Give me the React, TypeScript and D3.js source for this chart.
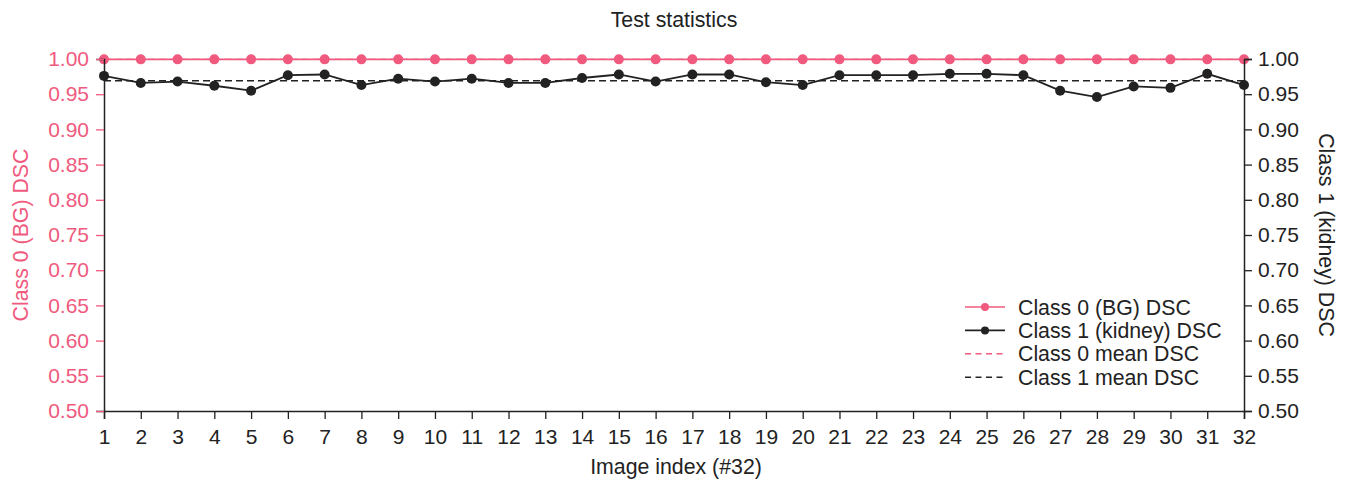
import React, { useEffect, useRef } from "react";
import * as d3 from "d3";

const imageIndex = d3.range(1, 33);
const class0Dsc = [
  0.9995, 0.9995, 0.9995, 0.9995, 0.9995, 0.9995, 0.9995, 0.9995, 0.9995, 0.9995, 0.9995,
  0.9995, 0.9995, 0.9995, 0.9995, 0.9995, 0.9995, 0.9995, 0.9995, 0.9995, 0.9995, 0.9995,
  0.9995, 0.9995, 0.9995, 0.9995, 0.9995, 0.9995, 0.9995, 0.9995, 0.9995, 0.9995,
];
const class1Dsc = [
  0.976, 0.966, 0.968, 0.962, 0.955, 0.977, 0.978, 0.963, 0.972, 0.968, 0.972,
  0.966, 0.966, 0.973, 0.978, 0.968, 0.978, 0.978, 0.967, 0.963, 0.977, 0.977,
  0.977, 0.979, 0.979, 0.977, 0.955, 0.946, 0.961, 0.959, 0.979, 0.963,
];
const class0Mean = 0.9995;
const class1Mean = 0.969;
const yTicks = [0.5, 0.55, 0.6, 0.65, 0.7, 0.75, 0.8, 0.85, 0.9, 0.95, 1.0];

const PINK = "#f05a7e";
const DARK = "#222222";
const FONT = "'Liberation Sans', Arial, sans-serif";
const LABEL_SIZE = "21.3px";
const TICK_SIZE = 21;

function Chart() {
  const ref = useRef<SVGSVGElement>(null);

  useEffect(() => {
    const svg = d3.select(ref.current);
    svg.selectAll("*").remove();
    const W = 1351, H = 480;
    const margin = { top: 59, right: 107, bottom: 69, left: 104 };
    const w = W - margin.left - margin.right,
      h = H - margin.top - margin.bottom;

    svg.attr("width", W).attr("height", H).style("font-family", FONT);
    const g = svg.append("g").attr("transform", `translate(${margin.left},${margin.top})`);

    const x = d3.scaleLinear().domain([1, 32]).range([0, w]);
    const y = d3.scaleLinear().domain([0.5, 1.0]).range([h, 0]);

    // mean lines
    g.append("line")
      .attr("x1", 0).attr("x2", w)
      .attr("y1", y(class0Mean)).attr("y2", y(class0Mean))
      .attr("stroke", PINK).attr("stroke-width", 1.4).attr("stroke-dasharray", "7,4");
    g.append("line")
      .attr("x1", 0).attr("x2", w)
      .attr("y1", y(class1Mean)).attr("y2", y(class1Mean))
      .attr("stroke", DARK).attr("stroke-width", 1.4).attr("stroke-dasharray", "7,4");

    const line = d3.line<number>().x((d, i) => x(imageIndex[i])).y(d => y(d));

    g.append("path").datum(class0Dsc)
      .attr("d", line).attr("fill", "none").attr("stroke", PINK).attr("stroke-width", 1.8);
    g.selectAll(".p0").data(class0Dsc).join("circle")
      .attr("class", "p0")
      .attr("cx", (d, i) => x(imageIndex[i])).attr("cy", d => y(d))
      .attr("r", 5).attr("fill", PINK);

    g.append("path").datum(class1Dsc)
      .attr("d", line).attr("fill", "none").attr("stroke", DARK).attr("stroke-width", 1.8);
    g.selectAll(".p1").data(class1Dsc).join("circle")
      .attr("class", "p1")
      .attr("cx", (d, i) => x(imageIndex[i])).attr("cy", d => y(d))
      .attr("r", 5).attr("fill", DARK);

    // axes
    const xAxis = g.append("g")
      .attr("transform", `translate(0,${h})`)
      .call(d3.axisBottom(x).tickValues(imageIndex).tickFormat(d3.format("d")).tickSize(8).tickPadding(10));
    xAxis.attr("font-family", FONT).attr("font-size", TICK_SIZE);
    xAxis.selectAll("text").attr("fill", DARK);
    xAxis.selectAll("line").attr("stroke", DARK).attr("stroke-width", 1.3);
    xAxis.select(".domain").attr("stroke", DARK).attr("stroke-width", 1.5);

    const yLeft = g.append("g")
      .call(d3.axisLeft(y).tickValues(yTicks).tickFormat(d3.format(".2f")).tickSize(8).tickPadding(7));
    yLeft.attr("font-family", FONT).attr("font-size", TICK_SIZE);
    yLeft.selectAll("text").attr("fill", PINK);
    yLeft.selectAll("line").attr("stroke", PINK).attr("stroke-width", 1.3);
    yLeft.select(".domain").attr("stroke", DARK).attr("stroke-width", 1.5);

    const yRight = g.append("g")
      .attr("transform", `translate(${w},0)`)
      .call(d3.axisRight(y).tickValues(yTicks).tickFormat(d3.format(".2f")).tickSize(8).tickPadding(6));
    yRight.attr("font-family", FONT).attr("font-size", TICK_SIZE);
    yRight.selectAll("text").attr("fill", DARK);
    yRight.selectAll("line").attr("stroke", DARK).attr("stroke-width", 1.3);
    yRight.select(".domain").attr("stroke", DARK).attr("stroke-width", 1.5);

    // titles
    svg.append("text")
      .attr("x", margin.left + w / 2).attr("y", 27)
      .attr("text-anchor", "middle").style("font-size", LABEL_SIZE).attr("fill", DARK)
      .text("Test statistics");

    svg.append("text")
      .attr("x", margin.left + w / 2 + 2).attr("y", 474)
      .attr("text-anchor", "middle").style("font-size", LABEL_SIZE).attr("fill", DARK)
      .text("Image index (#32)");

    svg.append("text")
      .attr("transform", `translate(28,${margin.top + h / 2}) rotate(-90)`)
      .attr("text-anchor", "middle").style("font-size", LABEL_SIZE).attr("fill", PINK)
      .text("Class 0 (BG) DSC");

    svg.append("text")
      .attr("transform", `translate(1319,${margin.top + h / 2}) rotate(90)`)
      .attr("text-anchor", "middle").style("font-size", LABEL_SIZE).attr("fill", DARK)
      .text("Class 1 (kidney) DSC");

    // legend
    const legendItems = [
      { label: "Class 0 (BG) DSC", color: PINK, dash: null, marker: true },
      { label: "Class 1 (kidney) DSC", color: DARK, dash: null, marker: true },
      { label: "Class 0 mean DSC", color: PINK, dash: "6,4.5", marker: false },
      { label: "Class 1 mean DSC", color: DARK, dash: "6,4.5", marker: false },
    ];
    const lg = svg.append("g").attr("transform", "translate(965,307)");
    legendItems.forEach((it, i) => {
      const row = lg.append("g").attr("transform", `translate(0,${i * 23.4})`);
      row.append("line")
        .attr("x1", 0).attr("x2", 40).attr("y1", 0).attr("y2", 0)
        .attr("stroke", it.color).attr("stroke-width", 1.6)
        .attr("stroke-dasharray", it.dash);
      if (it.marker) row.append("circle").attr("cx", 20).attr("cy", 0).attr("r", 4).attr("fill", it.color);
      row.append("text")
        .attr("x", 53).attr("y", 7.5)
        .style("font-size", LABEL_SIZE).attr("fill", DARK)
        .text(it.label);
    });
  }, []);

  return <svg ref={ref} style={{ display: "block", position: "absolute", left: 0, top: 0 }} />;
}

export default function App() {
  return <Chart />;
}
